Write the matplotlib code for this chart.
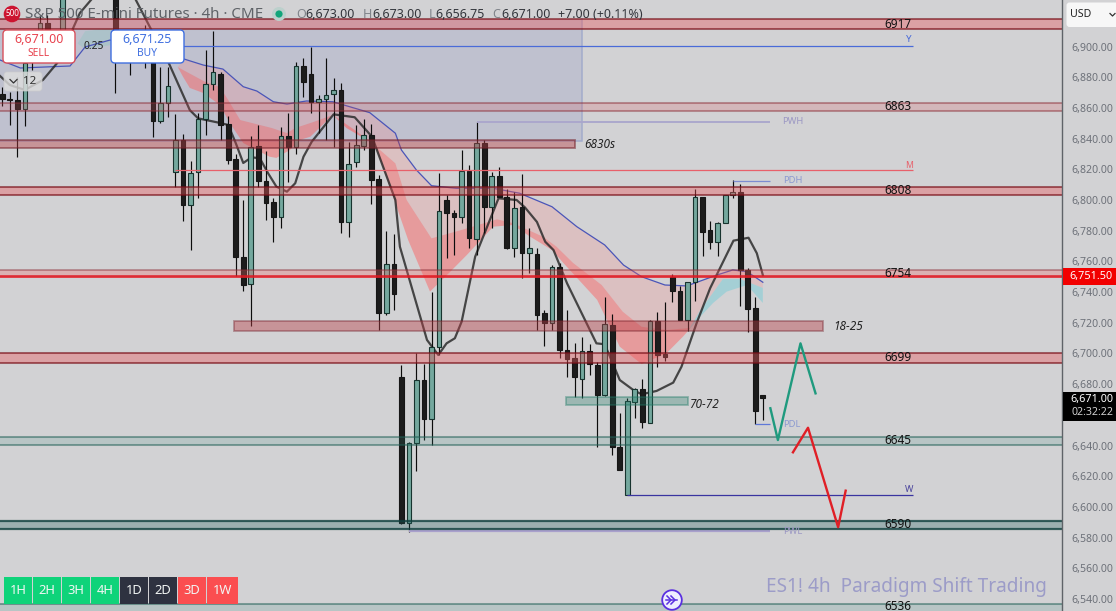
import numpy as np
import matplotlib
matplotlib.use("Agg")
import matplotlib.pyplot as plt
from matplotlib.patches import Rectangle, FancyBboxPatch, Circle
from matplotlib.ticker import FuncFormatter

BG = '#d2d2d4'
SANS = 'Noto Sans'
plt.rcParams['font.family'] = [SANS, 'DejaVu Sans']

# ---- OHLC per 4h bar (NaN: bar off-screen or hidden)
n = float('nan')
opens = [6869, 6865.5, 6865, 6859.5, 6891.2, 6910.8, 6915.3, n, 6908.8, n, n, n, n, n, n, 6933.5, n, 6907.5, n, 6907.5,
         6892.5, 6851.7, 6863.4, 6818.4, 6839.1, 6796.9, 6818, 6852.6, 6875.4, 6881.9, 6849.5, 6826.7, 6762.9, 6745, 6835.2, 6812.4, 6798.7, 6789.1, 6841.7, 6834.7,
         6887.3, 6882.1, 6864, 6865.6, 6868.9, 6871.7, 6785.9, 6824.6, 6835.4, 6842.2, 6813.5, 6726.2, 6758.3, 6684.5, 6589.8, 6641.5, 6682.7, 6657.1, 6704.4, 6800,
         6791.5, 6788.7, 6818.9, 6774.4, 6837, 6795.2, 6815.6, 6801.8, 6768.5, 6795.2, 6765.3, 6764.8, 6726.2, 6719.7, 6756.2, 6702.3, 6696.9, 6683.2, 6701.8, 6692.5,
         6673, 6718.6, 6638.9, 6607.6, 6668.6, 6676.7, 6654.9, 6721.2, 6699.7, 6749.6, 6740.9, 6721.8, 6746.4, 6801.8, 6780.5, 6772.8, 6784.8, 6803, 6805, 6754.4,
         6729.4, 6673]
highs = [6873.5, 6870.5, 6880, 6892.5, 6910.8, 6920.5, 6920.5, n, 6936.8, n, n, n, n, n, n, 6940, n, 6910, n, 6914,
         6897.7, 6886.8, 6886.8, 6856, 6843, 6825.4, 6856.5, 6897.7, 6910.1, 6883.4, 6854.7, 6830, 6800, 6841.7, 6848.9, 6832.1, 6801.3, 6847.6, 6856.7, 6890.1,
         6892.5, 6899.7, 6868.4, 6892.5, 6879.5, 6876.2, 6838, 6848.9, 6852.8, 6849.5, 6816.3, 6780, 6777.8, 6692.5, 6642.5, 6700.5, 6693.2, 6740.3, 6817.6, 6803.3,
         6793.5, 6832.6, 6822.8, 6851, 6839.1, 6818.4, 6821.7, 6807.2, 6805.4, 6816.9, 6781.6, 6768.5, 6728.3, 6757.6, 6758.8, 6728.3, 6707, 6710.7, 6706.2, 6694.7,
         6736.6, 6725.7, 6661, 6670.8, 6677.5, 6683.2, 6721.8, 6726.8, 6733.3, 6751.8, 6744, 6746.8, 6807, 6802, 6786.3, 6785.9, 6803.3, 6813, 6810.4, 6755.9,
         6736.6, 6673]
lows = [6861, 6849, 6828, 6848, 6884.7, 6904.2, 6891.2, n, 6901, n, n, n, n, n, n, 6869.7, n, 6881.5, n, 6886,
        6840.9, 6850.4, 6854.3, 6808.7, 6786.5, 6767.4, 6801.1, 6842.3, 6871.7, 6839.1, 6823.5, 6750.5, 6740.9, 6717.9, 6808.7, 6787, 6772.8, 6782, 6811.9, 6830,
        6867.3, 6856.7, 6843.6, 6839.1, 6834.7, 6778.7, 6776.1, 6821.7, 6832.6, 6797.4, 6715.3, 6725.1, 6728.3, 6588.9, 6583.9, 6623.6, 6643.6, 6640.4, 6699, 6762.2,
        6764.2, 6785.2, 6768.5, 6764.2, 6778.5, 6781.6, 6801.8, 6767.9, 6763.1, 6749, 6752.6, 6715.3, 6704.9, 6715.3, 6696.9, 6684.5, 6671.9, 6670.8, 6686, 6639.3,
        6672.3, 6633.9, 6623.8, 6607.5, 6657.8, 6651.6, 6654.7, 6691.4, 6695.1, 6733.7, 6721.5, 6714.6, 6734.4, 6763.7, 6768.1, 6763.5, 6784.8, 6801.5, 6731.1, 6714.2,
        6653.9, 6656.75]
closes = [6865.5, 6865, 6859.5, 6889, 6904.2, 6915.3, 6910.8, n, 6933.5, n, n, n, n, n, n, 6904.2, n, 6894.5, n, 6894.5,
          6851.7, 6863.4, 6874.3, 6839.1, 6796.7, 6817.4, 6852.6, 6875.6, 6883.2, 6848.9, 6826, 6763, 6744.6, 6834.7, 6812.6, 6798.2, 6789.1, 6841.7, 6834.7, 6887.3,
          6877.1, 6864, 6865.8, 6868.2, 6871.5, 6785.9, 6823.3, 6835.6, 6842.2, 6813, 6726.2, 6758.3, 6738.8, 6589.8, 6641.5, 6682.7, 6657.1, 6704.4, 6792.6, 6791.3,
          6788.7, 6818.9, 6775, 6837, 6795.6, 6815.6, 6801.8, 6768.5, 6794.6, 6765.3, 6768.5, 6725.3, 6719.7, 6756.2, 6702.3, 6696.2, 6684.5, 6701.8, 6692.9, 6673,
          6719.2, 6638.9, 6624.1, 6669, 6676.7, 6655.6, 6721.4, 6699, 6697.9, 6740.9, 6721.8, 6746.4, 6801.8, 6779.3, 6772.8, 6784.8, 6803.3, 6805, 6754.4, 6728.8,
          6662.7, 6671]

# ---- Moving averages and ribbon edges (bar position, price)
ma_bar = [-0.3, 1, 3, 5.4, 7.3, 9.3, 10.3, 12, 13, 16.3, 17.6, 19.6, 22.1, 24.9, 26, 28.9, 30, 31, 32, 33.1, 34.2, 35.3, 36.4, 37.8, 38.9, 40, 41.1, 44, 46.8, 49.1, 52.2, 52.8, 56.4, 57.9, 59, 60.1, 61, 62.8, 65.9, 68.3, 69.4, 71, 72.1, 73.2, 75, 78.9, 80, 82, 83.8, 84.9, 86.9, 89.1, 90.2, 92.2, 94, 97.1, 99.1, 100.2, 101]
ma_val = [6880.8, 6874.9, 6871.7, 6878.2, 6889.3, 6910.8, 6921.8, 6931.6, 6934.9, 6934.9, 6931.6, 6912.7, 6889.3, 6858.6, 6853.2, 6850.2, 6848.9, 6837.1, 6824.1, 6827.8, 6827.2, 6817.4, 6808.7, 6805.4, 6810.9, 6828.2, 6838, 6855.8, 6853.9, 6841.2, 6800, 6769.6, 6708.8, 6699, 6706.6, 6709.9, 6720.7, 6763.1, 6801.1, 6800, 6795.2, 6785.7, 6772.8, 6767.4, 6745.7, 6706.6, 6706, 6682.7, 6676.2, 6673.4, 6675.6, 6681, 6691.4, 6719.7, 6742.5, 6773.5, 6775.4, 6765.3, 6751.1]
blue_bar = [-0.3, 2.4, 9, 11, 14.3, 24.1, 26.7, 29.3, 32, 33.8, 36, 37.8, 40.4, 43.9, 48.8, 52.2, 53, 55, 57, 60.3, 65.2, 68.7, 73, 76.3, 80, 82.5, 84.9, 88, 90.9, 94.9, 97, 98.9, 101]
blue_val = [6891.2, 6886, 6887.3, 6899.7, 6904.2, 6891.9, 6887.9, 6885.3, 6873.8, 6871, 6864, 6862.5, 6864.5, 6864, 6856.9, 6843.5, 6832.6, 6819.5, 6809.3, 6807.6, 6807.6, 6804.4, 6795.6, 6782.6, 6770.7, 6757.6, 6750, 6744.6, 6744, 6751.1, 6754.4, 6753.3, 6746.4]
mid_bar = [23.3, 26.9, 28.9, 30, 31.6, 35.8, 37.8, 38.9, 41.3, 43.9, 45.7, 49.1, 52.2, 53.7, 57, 61, 65.7, 67.8, 71.8, 73.6, 75.8, 79.6, 82.4, 84.9, 88.2, 91.3, 92.7, 94, 95.7, 98, 101]
mid_val = [6886.6, 6877.1, 6873.6, 6865.2, 6852.1, 6846.9, 6843.6, 6846.9, 6850.8, 6855.4, 6846.9, 6837.1, 6823.9, 6800, 6775, 6780.5, 6787.4, 6785, 6776.1, 6769.6, 6759, 6744.6, 6727.2, 6717.4, 6715.3, 6716.6, 6728.3, 6737, 6748.5, 6748.5, 6742.7]
low_bar = [23.3, 24, 24.9, 26.7, 28.9, 30.2, 32, 35.5, 36.4, 38.2, 39.5, 40.9, 43.9, 46.8, 49.5, 51.9, 53.9, 56.8, 59.5, 61.7, 65.2, 67.8, 70.1, 73, 74.5, 79, 82, 84.9, 88.2, 90.4, 91.3]
low_val = [6886.6, 6880.3, 6873, 6869.7, 6861.9, 6850.2, 6837.1, 6828.2, 6827.4, 6832.6, 6839.1, 6841.2, 6855.4, 6845.6, 6835.8, 6802.2, 6773.9, 6740.3, 6753.3, 6764.2, 6782.6, 6783.7, 6776.1, 6767.4, 6759, 6734.9, 6704.4, 6693.1, 6700.1, 6711, 6716]
teal_bar = [91.3, 92.7, 94.4, 96.2, 98.9, 101]
teal_val = [6716, 6724, 6732.9, 6740.3, 6744.6, 6732.9]
teal_left_bar = [10, 11, 14.5, 14.5, 11]
teal_left_val = [6902, 6910, 6912, 6901, 6898]

# ---- Zones: (top, bottom)
red_zones = {'6917': (6917.9, 6911.4), '6863': (6863.2, 6858), '6808': (6808.4, 6803.3),
             '6754': (6754.4, 6749.2), '6699': (6700, 6694.1)}
teal_zones = {'6645': (6645.6, 6640.4), '6590': (6591, 6585.5), '6536': (6537, 6529.6)}
box_6830 = (-1, 76.0, 6839, 6833.9)
box_1825 = (30.8, 109.0, 6721.2, 6714.6)
box_7072 = (74.9, 91.1, 6671.7, 6666.4)
range_box = (-1, 77, 6917.9, 6838.4)

# ---- Level lines: (start bar, end bar, price)
line_y = (24, 121, 6900.6)
line_m = (23, 121, 6819.8)
line_pwh = (63, 101.9, 6851)
line_pdh = (97, 102, 6812.6)
line_pdl = (100, 102, 6654.3)
line_w = (83, 121, 6607.5)
line_pwl = (54, 102, 6584)

path_green_bar = [102, 103, 106, 108]
path_green_val = [6664.3, 6643.6, 6706.6, 6674]
path_red_bar = [105, 107, 111, 112]
path_red_val = [6635.6, 6651.6, 6586.8, 6610.6]

axis_ticks = [6900, 6880, 6860, 6840, 6820, 6800, 6780, 6760, 6740, 6720, 6700, 6680, 6640, 6620, 6600, 6580, 6560, 6540]
level_names = ['6917', '6863', '6808', '6754', '6699', '6645', '6590', '6536']
level_prices = [6914.5, 6860.8, 6806, 6752, 6697.5, 6643, 6588.5, 6535]
tf_labels = ['1H', '2H', '3H', '4H', '1D', '2D', '3D', '1W']
tf_colors = ['#0fd37a'] * 4 + ['#2e3240'] * 2 + ['#fb4e50'] * 2

W, H = 1116, 611
fig = plt.figure(figsize=(W / 100, H / 100), dpi=100, facecolor=BG)
ax = fig.add_axes([0, 0, 1062 / W, 1], facecolor=BG)
ax.set_xlim(-0.305, 140.73)
ax.set_ylim(6532.2, 6930.3)
ax.axis('off')

ax2 = fig.add_axes([1062 / W, 0, 2 / W, 1], facecolor=BG, sharey=ax)
ax2.set_xticks([])
for s in ['top', 'bottom', 'right']:
    ax2.spines[s].set_visible(False)
ax2.spines['left'].set_color('#5f6368')
ax2.spines['left'].set_linewidth(1)
ax2.yaxis.tick_right()
ax2.set_yticks(axis_ticks)
ax2.yaxis.set_major_formatter(FuncFormatter(lambda v, p: f'{v:,.2f}'))
ax2.tick_params(axis='y', length=0, pad=5, labelsize=7.6, labelcolor='#6d7179', labelleft=False, labelright=True)
ax2.set_ylim(6532.2, 6930.3)

# range box
x0, x1, t, b = range_box
ax.add_patch(Rectangle((x0, b), x1 - x0, t - b, fc=(0.33, 0.40, 0.72, 0.15), ec='none', zorder=1))
ax.plot([x1, x1, x0], [t, b, b], color='#a3abcb', lw=1.1, zorder=1.1, solid_joinstyle='miter')

# ribbon
ax.fill(blue_bar[5:] + mid_bar[::-1], blue_val[5:] + mid_val[::-1], fc=(1, 0.5, 0.5, 0.22), ec='none', zorder=2)
ax.fill(mid_bar[:26] + low_bar[::-1], mid_val[:26] + low_val[::-1], fc=(1, 0.35, 0.35, 0.45), ec='none', zorder=2.1)
ax.fill(mid_bar[25:] + teal_bar[::-1], mid_val[25:] + teal_val[::-1], fc=(0.35, 0.8, 0.85, 0.38), ec='none', zorder=2.1)
ax.fill(teal_left_bar, teal_left_val, fc=(0.35, 0.8, 0.7, 0.18), ec='none', zorder=2.1)
ax.plot(blue_bar, blue_val, color='#4a55b8', lw=0.9, zorder=2.5)
ax.plot(ma_bar, ma_val, color='#2c2c2c', lw=1.6, alpha=0.85, zorder=2.6)

# candles
bars = np.arange(len(opens))
o, h, l, c = map(np.array, (opens, highs, lows, closes))
ok = ~np.isnan(o)
ax.vlines(bars[ok], l[ok], h[ok], color='#0c0c0c', lw=0.85, zorder=3)
up = ok & (c >= o)
dn = ok & (c < o)
ax.bar(bars[up], (c - o)[up], bottom=o[up], width=0.62, color='#74a89e', edgecolor='#17332e', lw=0.8, zorder=4)
ax.bar(bars[dn], (c - o)[dn], bottom=o[dn], width=0.62, color='#1c1c1c', edgecolor='#161616', lw=0.8, zorder=4)

# horizontal levels
def hline_pair(top, bot, fill, edge, e_alpha, lw=1.45, z=5):
    ax.add_patch(Rectangle((-1, bot), 143, top - bot, fc=fill, ec='none', zorder=z))
    ax.hlines([top, bot], -1, 142, color=edge, alpha=e_alpha, lw=lw, zorder=z)

for name, (t, b) in red_zones.items():
    if name == '6863':
        hline_pair(t, b, (0.85, 0.35, 0.38, 0.22), '#8a2a34', 0.45)
    elif name == '6754':
        ax.add_patch(Rectangle((-1, b), 143, t - b, fc=(0.95, 0.4, 0.4, 0.3), ec='none', zorder=5))
        ax.hlines(t, -1, 142, color='#8a2a34', alpha=0.45, lw=1.3, zorder=5)
        ax.hlines(b + 1, -1, 142, color='#e0141e', alpha=0.85, lw=1.9, zorder=5)
    else:
        hline_pair(t, b, (0.92, 0.35, 0.37, 0.4), '#7a0f18', 0.62)
for name, (t, b) in teal_zones.items():
    if name == '6590':
        hline_pair(t, b, (0.12, 0.37, 0.37, 0.3), '#0f3f3d', 0.8, lw=1.6)
    else:
        hline_pair(t, b, (0.23, 0.54, 0.49, 0.17), '#1f5f55', 0.5)

for (x0, x1, t, b), fc, ec in [
    (box_6830, (0.72, 0.25, 0.28, 0.42), (0.45, 0.12, 0.16, 0.55)),
    (box_1825, (0.72, 0.25, 0.28, 0.42), (0.45, 0.12, 0.16, 0.4)),
    (box_7072, (0.12, 0.48, 0.40, 0.3), (0.12, 0.48, 0.40, 0.4)),
]:
    ax.add_patch(Rectangle((x0, b), x1 - x0, t - b, fc=fc, ec=ec, lw=1.3, zorder=5))

def level(line, color, lw):
    ax.hlines(line[2], line[0], line[1], color=color, lw=lw, zorder=4.5)

level(line_y, '#4a6bd8', 0.9)
level(line_m, '#e8606a', 0.9)
level(line_pwh, '#a9a5cc', 1.3)
level(line_pdh, '#7c8cd0', 0.9)
level(line_pdl, '#5f78d8', 0.9)
level(line_w, '#3a34a0', 0.9)
level(line_pwl, '#a9a0cc', 1.6)

ax.plot(path_green_bar, path_green_val, color='#1f9a7e', lw=1.7, zorder=6)
ax.plot(path_red_bar, path_red_val, color='#e01f26', lw=1.7, zorder=6)

for name, p in zip(level_names, level_prices):
    ax.text(119, p, name, ha='center', va='center', fontsize=8.5, color='#111', zorder=7, clip_on=True)

# overlay in pixel space
ov = fig.add_axes([0, 0, 1, 1], facecolor='none', zorder=10)
ov.set_xlim(0, W)
ov.set_ylim(H, 0)
ov.axis('off')

small = dict(fontsize=6.8, va='center', ha='left')
ov.text(909, 40, 'Y', color='#4a6bd8', ha='center', va='center', fontsize=7)
ov.text(909, 165, 'M', color='#e8606a', ha='center', va='center', fontsize=6.2)
ov.text(909, 489, 'W', color='#4a449c', ha='center', va='center', fontsize=6.5)
ov.text(782, 121, 'PWH', color='#9c98c4', **small)
ov.text(783, 180.5, 'PDH', color='#8c9ad0', **small)
ov.text(783, 424.5, 'PDL', color='#8c9ad0', **small)
ov.text(783, 532, 'PWL', color='#9c98c4', **small)
bi = dict(fontsize=8.5, style='italic', fontweight='bold', color='#222', va='center', ha='left')
ov.text(584, 144, '6830s', **bi)
ov.text(833, 326, '18-25', **bi)
ov.text(689, 405, '70-72', **bi)

# header
ov.add_patch(Circle((12, 14), 8.3, fc='#cc1430', ec='none'))
ov.text(12, 14, '500', color='white', fontsize=5.8, fontweight='bold', ha='center', va='center')
ov.text(25, 14, 'S&P 500 E-mini Futures · 4h · CME', color='#5f6368', fontsize=10.9, ha='left', va='center')
ov.add_patch(Circle((279, 14), 7, fc='#bcd0cc', ec='none'))
ov.add_patch(Circle((279, 14), 3.6, fc='#12a57a', ec='none'))
for x, a, b_ in [(296, 'O', '6,673.00'), (362.5, 'H', '6,673.00'), (428.5, 'L', '6,656.75'), (492.5, 'C', '6,671.00')]:
    ov.text(x, 14.5, a, color='#80848a', fontsize=9, ha='left', va='center')
    ov.text(x + {'O': 9.5, 'H': 9.5, 'L': 7, 'C': 9}[a], 14.5, b_, color='#33363c', fontsize=9, ha='left', va='center')
ov.text(558, 14.5, '+7.00 (+0.11%)', color='#33363c', fontsize=9, ha='left', va='center')

# buy / sell
ov.add_patch(FancyBboxPatch((5, 32), 68, 29, boxstyle='round,pad=2,rounding_size=4', fc='white', ec='#d8505c', lw=1))
ov.text(39, 39.5, '6,671.00', color='#e8434f', fontsize=9, ha='center', va='center', fontweight='medium')
ov.text(39, 54, 'SELL', color='#e8434f', fontsize=7.4, ha='center', va='center')
ov.add_patch(FancyBboxPatch((113, 32), 69, 29, boxstyle='round,pad=2,rounding_size=4', fc='white', ec='#3f6fe0', lw=1))
ov.text(147.5, 39.5, '6,671.25', color='#3f6fe0', fontsize=9, ha='center', va='center', fontweight='medium')
ov.text(147.5, 54, 'BUY', color='#3f6fe0', fontsize=7.4, ha='center', va='center')
ov.text(93.5, 46.5, '0.25', color='#222', fontsize=7.4, ha='center', va='center')
ov.add_patch(FancyBboxPatch((5, 73), 36, 17, boxstyle='round,pad=1,rounding_size=3', fc=(0.87, 0.87, 0.87, 0.8), ec=(0.8, 0.8, 0.8, 0.8), lw=0.6))
ov.plot([10, 13.5, 17], [79.5, 83, 79.5], color='#333', lw=0.9)
ov.plot([22.5, 22.5], [73, 90], color='#c0c0c0', lw=0.6)
ov.text(30, 81.5, '12', color='#333', fontsize=8.4, ha='center', va='center')

# timeframe buttons
tf_x = [4, 33, 62, 91, 120, 149, 178, 207]
tf_w = [28, 28, 28, 28, 28, 28, 28, 31]
for x, w, lab, col in zip(tf_x, tf_w, tf_labels, tf_colors):
    ov.add_patch(Rectangle((x, 577), w, 26.5, fc=col, ec='none'))
    ov.text(x + w / 2, 590, lab, color='#f2f6f4', fontsize=9.3, fontweight='bold', ha='center', va='center')

# watermark and icon
ov.text(766, 587, 'ES1! 4h  Paradigm Shift Trading', color='#9c9cc8', fontsize=13.7, ha='left', va='center', fontweight='medium')
ov.add_patch(Circle((672, 600), 9.8, fc='#eeeeff', ec='#5a30e0', lw=1.3))
ov.plot([667, 671, 667], [596, 600, 604], color='#5a30e0', lw=1.1)
ov.plot([671, 675, 671], [596, 600, 604], color='#5a30e0', lw=1.1)
ov.plot([666, 677], [600, 600], color='#5a30e0', lw=1.1)

# price tags
ov.add_patch(FancyBboxPatch((1068, 4), 50, 21.5, boxstyle='round,pad=1.5,rounding_size=3', fc='#f7f7f7', ec='none'))
ov.text(1070, 14.5, 'USD', color='#222', fontsize=7.6, ha='left', va='center')
ov.plot([1110, 1112.5, 1115], [13.5, 16, 13.5], color='#333', lw=0.9)
ov.add_patch(Rectangle((1063, 268.3), 53, 16.7, fc='#f20000', ec='none'))
ov.text(1113, 276.7, '6,751.50', color='white', fontsize=7.8, fontweight='bold', ha='right', va='center')
ov.add_patch(Rectangle((1063, 391.7), 53, 29.3, fc='#000000', ec='none'))
ov.text(1113, 399.5, '6,671.00', color='white', fontsize=7.8, fontweight='bold', ha='right', va='center')
ov.text(1113, 412.5, '02:32:22', color='#cfcfcf', fontsize=7.6, ha='right', va='center')

fig.savefig('out.png', dpi=100, facecolor=BG)
